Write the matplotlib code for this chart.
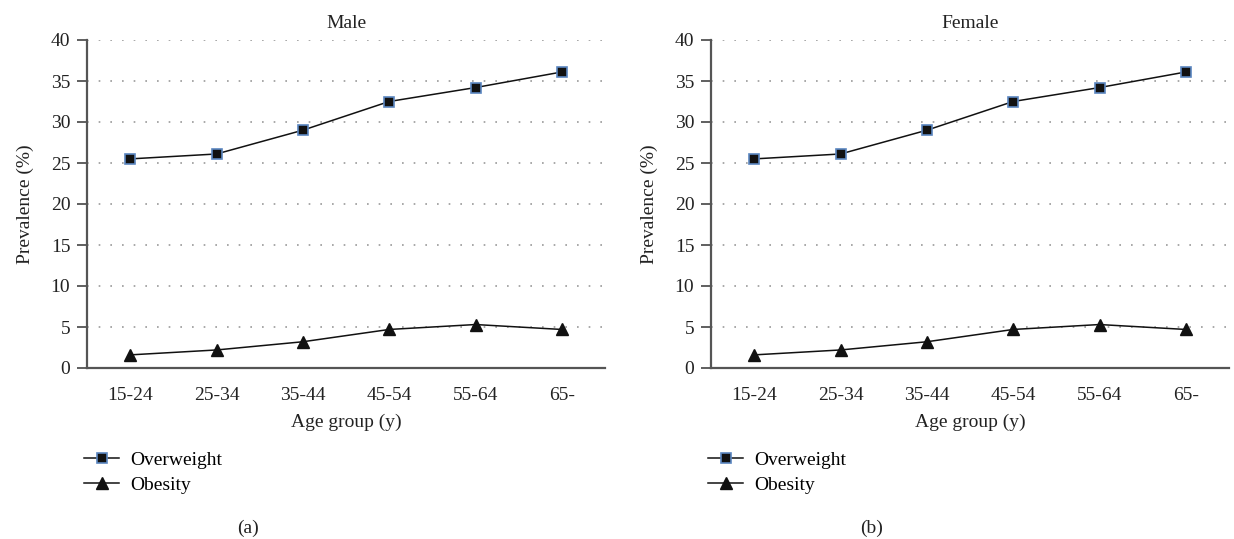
import matplotlib.pyplot as plt

plt.rcParams['font.family'] = ['Liberation Serif', 'DejaVu Serif']

ages = ['15-24', '25-34', '35-44', '45-54', '55-64', '65-']
male_overweight = [25.5, 26.1, 29.0, 32.5, 34.2, 36.1]
male_obesity = [1.6, 2.2, 3.2, 4.7, 5.3, 4.7]
female_overweight = [25.5, 26.1, 29.0, 32.5, 34.2, 36.1]
female_obesity = [1.6, 2.2, 3.2, 4.7, 5.3, 4.7]

panels = [
    ('Male', male_overweight, male_obesity, '(a)'),
    ('Female', female_overweight, female_obesity, '(b)'),
]

fig = plt.figure(figsize=(12.34, 5.39), dpi=100)
W, H = 1234, 539
lefts = [87, 711]
axw = 518

for (title, ow, ob, tag), left in zip(panels, lefts):
    ax = fig.add_axes([left / W, 1 - 368 / H, axw / W, 328 / H])
    x = range(len(ages))
    ax.plot(x, ow, color='#111111', lw=1.1, marker='s', markersize=6.5,
            markerfacecolor='#111111', markeredgecolor='#5b86c0', markeredgewidth=1.2,
            label='Overweight', zorder=3)
    ax.plot(x, ob, color='#111111', lw=1.1, marker='^', markersize=8,
            markerfacecolor='#111111', markeredgecolor='#111111',
            label='Obesity', zorder=3)
    ax.set_xlim(-0.5, 5.5)
    ax.set_ylim(0, 40)
    ax.set_yticks(range(0, 41, 5))
    ax.set_xticks(list(x))
    ax.set_xticklabels(ages)
    ax.tick_params(axis='x', length=0, pad=14, labelsize=14, colors='#222222')
    ax.tick_params(axis='y', length=7, width=1.2, direction='out', labelsize=14,
                   pad=5, colors='#444444', labelcolor='#222222')
    ax.grid(axis='y', linestyle=(0, (1, 6)), color='#999999', lw=1.2)
    for s in ['top', 'right']:
        ax.spines[s].set_visible(False)
    for s in ['left', 'bottom']:
        ax.spines[s].set_color('#555555')
        ax.spines[s].set_linewidth(1.6)
    ax.set_title(title, fontsize=14, color='#222222', pad=9)
    ax.set_ylabel('Prevalence (%)', fontsize=14, color='#222222', labelpad=12)
    ax.set_xlabel('Age group (y)', fontsize=14, color='#222222', labelpad=7)
    ax.legend(loc='upper left', bbox_to_anchor=(-0.005, -0.255), frameon=False,
              fontsize=14, handlelength=1.8, handletextpad=0.55, labelspacing=0.35,
              borderaxespad=0, borderpad=0)
    ax.text(0.31, -0.49, tag, transform=ax.transAxes, ha='center', va='center',
            fontsize=14, color='#222222')

fig.savefig('out.png', dpi=100)
